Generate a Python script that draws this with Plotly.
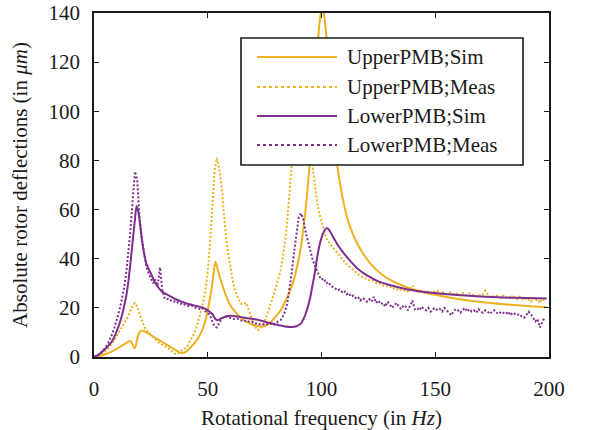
import plotly.graph_objects as go

ORANGE = "#EDB120"
PURPLE = "#7E2F8E"
INK = "#1a1a1a"
FONT = "Liberation Serif, Times New Roman, DejaVu Serif, serif"

# ---- Simulation: upper permanent-magnet bearing ----
freq_upper_sim = [0, 2, 4, 6, 8, 10, 12, 14, 15, 16,
                  17, 17.5, 18, 18.5, 19, 20, 21, 22, 24, 26,
                  28, 30, 32, 34, 36, 37, 38, 39, 40, 42,
                  44, 46, 48, 49, 50, 51, 52, 52.8, 53.4, 54,
                  55, 56, 58, 60, 62, 64, 66, 68, 70, 72,
                  74, 76, 78, 80, 82, 84, 86, 88, 90, 91,
                  92, 93, 94, 95, 96, 97, 98, 99, 100, 100.5,
                  101, 102, 103, 104, 105, 106, 107, 108, 110, 112,
                  115, 118, 122, 126, 130, 135, 140, 150, 160, 170,
                  180, 190, 199]
defl_upper_sim = [0, 0.3, 0.8, 1.5, 2.3, 3.3, 4.4, 5.6, 6.2, 6.5,
                  5.0, 4.0, 3.6, 5.0, 7.5, 10.0, 10.8, 10.5, 9.5, 8.3,
                  7.2, 6.1, 5.0, 3.9, 2.8, 2.2, 1.7, 1.6, 2.0, 3.5,
                  5.5, 8.0, 12.0, 15.0, 19.0, 24.0, 30.0, 36.0, 38.8, 37.0,
                  33.5, 30.5, 25.0, 21.0, 18.5, 16.5, 15.0, 13.8, 13.0, 12.5,
                  12.4, 13.0, 14.5, 16.5, 19.0, 22.5, 26.5, 32.0, 40.0, 45.0,
                  52.0, 60.0, 70.0, 81.0, 94.0, 108.0, 122.0, 135.0, 141.0, 142.0,
                  140.0, 132.0, 118.0, 104.0, 93.0, 84.0, 77.5, 71.5, 61.5, 54.5,
                  47.5, 42.5, 37.5, 34.0, 31.5, 29.3, 27.6, 25.3, 23.6, 22.4,
                  21.5, 20.8, 20.2]

# ---- Simulation: lower permanent-magnet bearing ----
freq_lower_sim = [0, 2, 4, 6, 8, 10, 12, 14, 15, 16,
                  17, 18, 18.7, 19.5, 20.5, 21.5, 23, 25, 27, 30,
                  33, 36, 40, 44, 48, 50, 52, 53, 54, 55,
                  56, 58, 60, 63, 66, 70, 75, 80, 84, 87,
                  89, 91, 93, 95, 96, 97, 98, 99, 100, 101,
                  102, 102.5, 103.5, 105, 107, 110, 113, 116, 120, 125,
                  130, 135, 140, 150, 160, 170, 180, 190, 199]
defl_lower_sim = [0, 0.9, 2.5, 4.2, 6.5, 10.5, 16, 24, 30, 38,
                  47, 56, 61.5, 59, 52, 45, 38, 34, 30, 26.5,
                  25, 23.5, 22, 21, 20, 19, 17.5, 16, 15, 15.2,
                  15.7, 16.5, 16.8, 16.5, 16, 15.5, 14.4, 13.2, 12.4, 12.2,
                  12.5, 13.7, 17.5, 24, 29, 34, 40, 45, 48.5, 51,
                  52.3, 52.4, 51.5, 49.0, 45.8, 42, 38.7, 35.8, 33.2, 30.8,
                  29.3, 28.1, 27.2, 26, 25.2, 24.6, 24.2, 24, 23.8]

# ---- Measurements, sampled every 1 Hz from 0 to 198 Hz ----
freq_meas = list(range(0, 199))
defl_upper_meas = [
    0, 0.2, 0.5, 1.0, 1.6, 2.3, 3.2, 4.3, 5.6, 7.0,
    8.5, 10.0, 11.5, 13.0, 14.5, 16.5, 19.0, 21.0, 22.0, 20.5,
    17.5, 14.5, 12.5, 11.0, 10.0, 9.0, 8.0, 7.0, 6.3, 5.6,
    5.0, 4.5, 4.0, 3.3, 2.8, 1.5, 1.2, 1.5, 2.0, 3.0,
    3.5, 4.5, 6.0, 7.5, 9.5, 12.0, 15.0, 18.0, 22.0, 27.0,
    35.0, 46.0, 63.0, 76.0, 81.0, 77.0, 70.0, 59.0, 49.0, 42.0,
    36.0, 31.0, 27.0, 24.5, 22.5, 21.5, 21.5, 22.0, 19.0, 15.5,
    13.5, 12.0, 11.0, 11.5, 12.5, 14.5, 17.0, 19.5, 22.5, 25.5,
    28.5, 31.5, 35.0, 41.0, 47.0, 56.0, 68.0, 80.0, 92.0, 102.0,
    108.0, 110.0, 107.0, 100.0, 92.0, 84.0, 78.0, 70.0, 63.5, 58.5,
    55.0, 51.0, 48.5, 47.0, 45.8, 44.8, 43.2, 42.0, 40.8, 39.8,
    38.8, 37.8, 37.0, 36.0, 35.0, 34.2, 33.8, 33.0, 32.6, 32.2,
    31.8, 31.3, 31.5, 30.8, 30.2, 29.8, 30.0, 29.2, 28.8, 28.9,
    28.5, 28.8, 27.8, 27.4, 27.8, 27.2, 26.8, 27.3, 26.7, 27.6,
    29.0, 27.0, 26.6, 26.2, 27.1, 26.5, 27.0, 26.4, 26.0, 26.9,
    26.4, 26.9, 25.6, 26.5, 26.0, 25.5, 26.0, 26.4, 25.5, 26.0,
    25.5, 25.0, 26.0, 25.5, 25.0, 26.0, 25.5, 25.0, 24.6, 25.5,
    25.0, 25.5, 27.0, 25.5, 24.5, 25.0, 24.5, 25.0, 24.5, 24.0,
    25.0, 24.5, 24.0, 24.5, 25.0, 24.0, 23.5, 24.5, 24.0, 23.0,
    24.0, 23.5, 22.5, 24.0, 23.0, 23.5, 22.0, 23.5, 23.0,
]
defl_lower_meas = [
    0, 0.4, 1.0, 1.7, 2.7, 3.8, 5.2, 7.0, 9.3, 12.0,
    15.0, 18.5, 22.5, 27.0, 33.0, 41.0, 51.0, 64.0, 75.5, 72.0,
    57.0, 48.0, 41.5, 37.0, 34.0, 32.0, 30.0, 31.5, 29.0, 36.5,
    27.5, 24.0, 23.5, 23.8, 22.8, 22.5, 22.9, 22.0, 21.6, 21.9,
    21.2, 21.0, 20.6, 20.9, 20.2, 20.0, 19.7, 19.4, 19.8, 18.6,
    18.0, 17.0, 14.5, 12.5, 12.0, 13.5, 15.5, 16.3, 16.5, 16.2,
    16.0, 15.8, 15.3, 15.6, 15.0, 14.8, 14.5, 14.9, 14.3, 14.0,
    14.2, 13.6, 13.8, 13.3, 13.5, 13.0, 13.4, 13.1, 13.6, 13.2,
    14.0, 14.5, 15.0, 16.5, 18.5, 22.0, 28.0, 35.0, 43.0, 51.0,
    57.0, 58.5, 56.0, 51.0, 47.0, 43.0, 40.0, 37.5, 35.0, 33.0,
    31.5, 32.0, 30.0, 30.5, 29.0, 28.5, 28.0, 27.0, 27.5, 26.5,
    27.0, 25.5, 26.0, 24.5, 25.0, 24.0, 24.5, 23.0, 24.0, 23.5,
    22.5, 23.5, 22.5, 24.5, 22.0, 23.0, 21.5, 22.0, 20.5, 22.5,
    21.5, 20.0, 21.0, 22.0, 20.5, 19.5, 21.0, 20.5, 19.0, 21.0,
    23.0, 19.5, 20.0, 19.0, 20.5, 19.5, 19.0, 20.0, 18.5, 19.5,
    20.0, 19.0, 19.5, 18.5, 20.0, 19.0, 18.0, 17.0, 18.5, 19.5,
    19.0, 18.0, 19.0, 20.0, 18.5, 19.5, 18.5, 19.0, 18.0, 19.5,
    18.5, 18.0, 19.0, 18.5, 17.5, 18.5, 19.0, 18.0, 17.5, 18.5,
    18.0, 17.5, 18.5, 17.0, 18.0, 17.5, 17.0, 17.5, 16.5, 16.0,
    17.0, 18.5, 17.5, 16.0, 14.5, 15.5, 12.0, 14.0, 16.0,
]

x_ticks = [0, 50, 100, 150, 200]
y_ticks = [0, 20, 40, 60, 80, 100, 120, 140]

series_names = ["UpperPMB;Sim", "UpperPMB;Meas", "LowerPMB;Sim", "LowerPMB;Meas"]
series_colors = [ORANGE, ORANGE, PURPLE, PURPLE]
series_dash = ["solid", "2px,2px", "solid", "2px,2px"]
series_x = [freq_upper_sim, freq_meas, freq_lower_sim, freq_meas]
series_y = [defl_upper_sim, defl_upper_meas, defl_lower_sim, defl_lower_meas]

fig = go.Figure()
for name, col, dash, xs, ys in zip(series_names, series_colors, series_dash,
                                   series_x, series_y):
    smooth = dash == "solid"
    fig.add_trace(go.Scatter(
        x=xs, y=ys, name=name, mode="lines", showlegend=False,
        line=dict(color=col, width=2, dash=dash,
                  shape="spline" if smooth else "linear",
                  smoothing=0.7 if smooth else None),
    ))

# plot area in pixels
L, R, T, B = 94, 549, 13, 357
W, H = 595, 430


def paper_x(p):
    return (p - L) / (R - L)


def paper_y(p):
    return (B - p) / (B - T)


# legend box with long line samples
shapes = [dict(type="rect", xref="paper", yref="paper",
               x0=paper_x(241), x1=paper_x(523),
               y0=paper_y(165), y1=paper_y(38),
               fillcolor="white", line=dict(color=INK, width=1.6),
               layer="above")]
annotations = []
rows = [57, 87, 116, 145]
for name, col, dash, ry in zip(series_names, series_colors, series_dash, rows):
    shapes.append(dict(type="line", xref="paper", yref="paper",
                       x0=paper_x(257), x1=paper_x(337),
                       y0=paper_y(ry), y1=paper_y(ry),
                       line=dict(color=col, width=2,
                                 dash="solid" if dash == "solid" else "dot"),
                       layer="above"))
    annotations.append(dict(xref="paper", yref="paper",
                            x=paper_x(345), y=paper_y(ry),
                            xanchor="left", yanchor="middle", showarrow=False,
                            text=name, font=dict(family=FONT, size=21, color=INK)))

axis_common = dict(
    showgrid=False, zeroline=False, showline=True, linecolor=INK, linewidth=1.8,
    mirror="ticks", ticks="inside", ticklen=5, tickwidth=1.4, tickcolor=INK,
    tickfont=dict(family=FONT, size=21, color=INK), automargin=False,
)

fig.update_layout(
    width=W, height=H,
    margin=dict(l=L, r=W - R, t=T, b=H - B, autoexpand=False),
    paper_bgcolor="white", plot_bgcolor="white",
    font=dict(family=FONT, size=21, color=INK),
    shapes=shapes, annotations=annotations,
    xaxis=dict(range=[0, 200], tickvals=x_ticks, ticklabelstandoff=12,
               title=dict(text="Rotational frequency (in <i>Hz</i>)",
                          font=dict(family=FONT, size=21, color=INK), standoff=10),
               **axis_common),
    yaxis=dict(range=[0, 140], tickvals=y_ticks, ticklabelstandoff=8,
               title=dict(text="Absolute rotor deflections (in <i>μm</i>)",
                          font=dict(family=FONT, size=21, color=INK), standoff=15),
               **axis_common),
)

fig.write_html("out.html")
